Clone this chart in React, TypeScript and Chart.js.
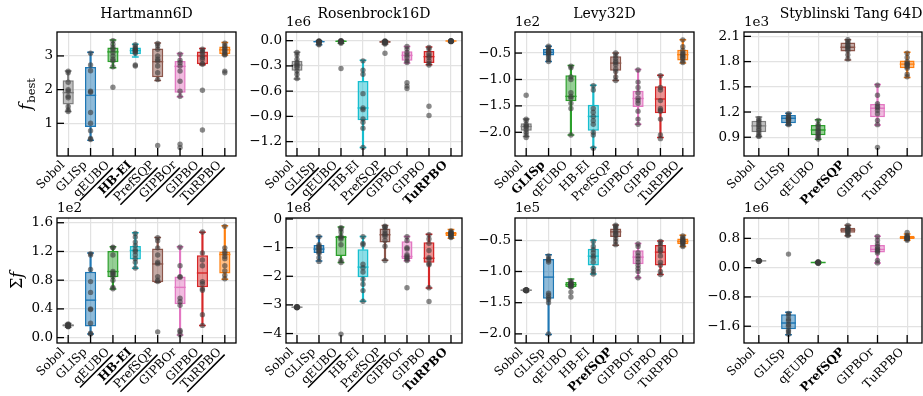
import React, { useEffect, useRef } from "react";
import { Chart, registerables } from "chart.js";
Chart.register(...registerables);

const W = 923;
const H = 396;
const FONT = '"DejaVu Serif", serif';

const COLORS: Record<string, string> = {
  Sobol: "#7f7f7f",
  GLISp: "#1f77b4",
  qEUBO: "#2ca02c",
  "HB-EI": "#17becf",
  PrefSQP: "#8c564b",
  GIPBOr: "#e377c2",
  GIPBO: "#d62728",
  TuRPBO: "#ff7f0e",
};

const CATS8 = ["Sobol", "GLISp", "qEUBO", "HB-EI", "PrefSQP", "GIPBOr", "GIPBO", "TuRPBO"];
const CATS6 = ["Sobol", "GLISp", "qEUBO", "PrefSQP", "GIPBOr", "TuRPBO"];

// ---------- Hartmann6D, f_best ----------
// box rows: [lower whisker, q1, median, q3, upper whisker]
const h6Box = [
  [1.35, 1.56, 1.91, 2.28, 2.55],
  [0.5, 0.89, 1.83, 2.67, 3.11],
  [2.65, 2.81, 3.12, 3.25, 3.47],
  [2.97, 3.05, 3.16, 3.25, 3.35],
  [2.27, 2.37, 2.83, 3.22, 3.38],
  [1.79, 1.91, 2.69, 2.85, 3.07],
  [2.74, 2.75, 3.0, 3.13, 3.22],
  [3.03, 3.06, 3.18, 3.28, 3.4],
];
const h6Pts = [
  [2.55, 2.5, 2.22, 2.0, 1.95, 1.8, 1.76, 1.5, 1.4, 1.35],
  [3.08, 2.73, 2.56, 1.95, 1.92, 1.32, 1.0, 0.78, 0.55, 0.52],
  [3.45, 3.35, 3.25, 3.2, 3.1, 3.0, 2.9, 2.85, 2.68, 2.07],
  [3.33, 3.28, 3.22, 3.2, 3.17, 3.15, 3.12, 3.08, 2.73, 2.7],
  [3.37, 3.3, 3.2, 3.0, 2.9, 2.85, 2.7, 2.5, 2.3, 0.34],
  [3.05, 2.87, 2.8, 2.7, 2.55, 2.25, 1.95, 1.8, 0.38, 0.28],
  [3.2, 3.15, 3.1, 3.02, 2.95, 2.9, 2.78, 2.75, 1.98, 0.8],
  [3.38, 3.3, 3.25, 3.2, 3.15, 3.1, 3.05, 3.03, 2.55, 2.5],
];
const h6Ticks = [1, 2, 3];
const h6TickLabels = ["1", "2", "3"];
const h6Range = [0.03, 3.71];
const h6Bold = ["HB-EI"];
const h6Under = ["qEUBO", "HB-EI", "PrefSQP", "GIPBOr", "GIPBO", "TuRPBO"];

// ---------- Rosenbrock16D, f_best (1e6) ----------
const r16Box = [
  [-0.457, -0.358, -0.29, -0.238, -0.139],
  [-0.05, -0.02, -0.012, -0.005, 0.0],
  [-0.03, -0.015, -0.007, -0.002, 0.0],
  [-1.27, -0.946, -0.8, -0.48, -0.234],
  [-0.04, -0.025, -0.015, -0.005, 0.0],
  [-0.266, -0.238, -0.175, -0.127, -0.068],
  [-0.286, -0.266, -0.19, -0.123, -0.075],
  [-0.012, -0.008, -0.004, -0.002, 0.0],
];
const r16Pts = [
  [-0.14, -0.17, -0.22, -0.26, -0.28, -0.3, -0.32, -0.36, -0.4, -0.45],
  [-0.003, -0.005, -0.008, -0.01, -0.012, -0.015, -0.02, -0.025, -0.04, -0.05],
  [0.0, -0.002, -0.005, -0.007, -0.01, -0.012, -0.015, -0.02, -0.03, -0.33],
  [-0.24, -0.35, -0.4, -0.63, -0.8, -0.82, -0.93, -0.97, -1.04, -1.27],
  [-0.003, -0.006, -0.01, -0.012, -0.015, -0.018, -0.022, -0.03, -0.04, -0.15],
  [-0.07, -0.1, -0.14, -0.17, -0.2, -0.24, -0.26, -0.5, -0.54, -0.57],
  [-0.08, -0.1, -0.15, -0.18, -0.2, -0.24, -0.27, -0.29, -0.78, -0.89],
  [-0.001, -0.002, -0.003, -0.004, -0.005, -0.006, -0.008, -0.009, -0.01, -0.012],
];
const r16Ticks = [0, -0.3, -0.6, -0.9, -1.2];
const r16TickLabels = ["0.0", "\u22120.3", "\u22120.6", "\u22120.9", "\u22121.2"];
const r16Range = [-1.371, 0.103];
const r16Bold = ["TuRPBO"];
const r16Under = ["GLISp", "qEUBO", "PrefSQP"];

// ---------- Levy32D, f_best (1e2) ----------
const l32Box = [
  [-2.08, -1.97, -1.89, -1.83, -1.75],
  [-0.66, -0.544, -0.487, -0.424, -0.37],
  [-2.05, -1.41, -1.32, -0.92, -0.734],
  [-2.29, -1.97, -1.7, -1.48, -1.11],
  [-1.02, -0.835, -0.69, -0.56, -0.5],
  [-1.85, -1.52, -1.36, -1.215, -0.81],
  [-2.1, -1.64, -1.37, -1.13, -0.92],
  [-0.69, -0.64, -0.53, -0.437, -0.25],
];
const l32Pts = [
  [-1.3, -1.75, -1.78, -1.85, -1.88, -1.9, -1.95, -2.0, -2.05, -2.1],
  [-0.37, -0.4, -0.44, -0.47, -0.49, -0.5, -0.53, -0.57, -0.62, -0.66],
  [-0.75, -0.78, -0.95, -1.0, -1.25, -1.32, -1.35, -1.45, -1.55, -2.05],
  [-1.12, -1.2, -1.55, -1.62, -1.7, -1.78, -1.85, -2.0, -2.05, -2.3],
  [-0.5, -0.55, -0.6, -0.65, -0.68, -0.72, -0.8, -0.85, -0.95, -1.02],
  [-0.82, -1.05, -1.15, -1.25, -1.35, -1.4, -1.45, -1.6, -1.75, -1.85],
  [-0.93, -1.15, -1.2, -1.4, -1.55, -1.58, -1.6, -1.75, -2.05, -2.12],
  [-0.25, -0.38, -0.45, -0.5, -0.52, -0.55, -0.58, -0.6, -0.65, -0.68],
];
const l32Ticks = [-0.5, -1.0, -1.5, -2.0];
const l32TickLabels = ["\u22120.5", "\u22121.0", "\u22121.5", "\u22122.0"];
const l32Range = [-2.449, -0.101];
const l32Bold = ["GLISp"];
const l32Under = ["TuRPBO"];

// ---------- Styblinski Tang 64D, f_best (1e3) ----------
const st64Box = [
  [0.908, 0.96, 1.035, 1.095, 1.14],
  [1.047, 1.067, 1.126, 1.166, 1.186],
  [0.876, 0.924, 0.987, 1.047, 1.107],
  [1.82, 1.92, 1.97, 2.028, 2.06],
  [1.047, 1.138, 1.245, 1.297, 1.528],
  [1.61, 1.722, 1.77, 1.814, 1.91],
];
const st64Pts = [
  [1.12, 1.1, 1.08, 1.05, 1.03, 1.0, 0.98, 0.95, 0.92, 0.91],
  [1.18, 1.16, 1.14, 1.13, 1.12, 1.11, 1.1, 1.08, 1.06, 1.05],
  [1.1, 1.05, 1.03, 1.0, 0.98, 0.96, 0.94, 0.92, 0.9, 0.88],
  [2.06, 2.04, 2.02, 2.0, 1.98, 1.97, 1.95, 1.93, 1.88, 1.83],
  [1.52, 1.4, 1.3, 1.27, 1.25, 1.22, 1.18, 1.1, 1.05, 0.78],
  [1.9, 1.85, 1.8, 1.78, 1.77, 1.76, 1.74, 1.72, 1.65, 1.62],
];
const st64Ticks = [0.9, 1.2, 1.5, 1.8, 2.1];
const st64TickLabels = ["0.9", "1.2", "1.5", "1.8", "2.1"];
const st64Range = [0.677, 2.152];
const st64Bold = ["PrefSQP"];
const st64Under: string[] = [];

// ---------- Hartmann6D, sum f (1e2) ----------
const h6SumBox = [
  [0.145, 0.155, 0.17, 0.185, 0.195],
  [0.052, 0.155, 0.522, 0.918, 1.18],
  [0.678, 0.842, 0.92, 1.205, 1.266],
  [0.965, 1.087, 1.214, 1.275, 1.459],
  [0.772, 0.772, 1.026, 1.242, 1.393],
  [0.038, 0.466, 0.7, 0.852, 1.266],
  [0.169, 0.701, 0.9, 1.148, 1.468],
  [0.814, 0.894, 1.158, 1.2, 1.558],
];
const h6SumPts = [
  [0.15, 0.16, 0.16, 0.17, 0.17, 0.18, 0.18, 0.19, 0.17, 0.16],
  [1.17, 1.15, 0.95, 0.78, 0.63, 0.4, 0.39, 0.2, 0.06, 0.05],
  [1.26, 1.25, 1.15, 0.92, 0.9, 0.88, 0.85, 0.8, 0.7, 0.68],
  [1.45, 1.4, 1.33, 1.28, 1.22, 1.2, 1.15, 1.1, 1.05, 0.97],
  [1.39, 1.35, 1.25, 1.15, 1.05, 1.03, 0.85, 0.8, 0.78, 0.08],
  [1.26, 1.0, 0.85, 0.84, 0.55, 0.5, 0.45, 0.1, 0.08, 0.04],
  [1.47, 1.18, 1.08, 1.0, 0.78, 0.75, 0.68, 0.66, 0.32, 0.17],
  [1.55, 1.25, 1.2, 1.17, 1.13, 1.1, 1.0, 0.93, 0.87, 0.82],
];
const h6SumTicks = [0, 0.4, 0.8, 1.2, 1.6];
const h6SumTickLabels = ["0.0", "0.4", "0.8", "1.2", "1.6"];
const h6SumRange = [-0.075, 1.666];
const h6SumBold = ["HB-EI"];
const h6SumUnder = ["qEUBO", "HB-EI", "PrefSQP", "GIPBO", "TuRPBO"];

// ---------- Rosenbrock16D, sum f (1e8) ----------
const r16SumBox = [
  [-3.1, -3.09, -3.08, -3.07, -3.06],
  [-1.47, -1.19, -1.05, -0.91, -0.61],
  [-1.52, -1.29, -0.64, -0.585, -0.28],
  [-2.87, -2.03, -1.68, -1.06, -0.61],
  [-1.44, -0.82, -0.55, -0.33, -0.23],
  [-1.46, -1.4, -1.31, -0.78, -0.61],
  [-2.41, -1.53, -1.37, -0.81, -0.53],
  [-0.67, -0.596, -0.51, -0.456, -0.37],
];
const r16SumPts = [
  [-3.06, -3.07, -3.07, -3.08, -3.08, -3.08, -3.09, -3.09, -3.1, -3.08],
  [-0.62, -0.9, -0.95, -1.0, -1.05, -1.1, -1.15, -1.2, -1.35, -1.48],
  [-0.3, -0.35, -0.45, -0.6, -0.65, -0.7, -0.9, -1.45, -1.52, -4.02],
  [-0.62, -0.85, -0.9, -1.58, -1.7, -1.85, -2.1, -2.28, -2.5, -2.87],
  [-0.25, -0.28, -0.3, -0.4, -0.5, -0.55, -0.6, -0.75, -0.95, -1.45],
  [-0.62, -0.75, -1.0, -1.05, -1.25, -1.3, -1.35, -1.4, -1.45, -2.4],
  [-0.55, -0.7, -0.85, -1.1, -1.35, -1.4, -1.55, -1.6, -2.4, -2.88],
  [-0.42, -0.45, -0.48, -0.5, -0.52, -0.54, -0.56, -0.6, -0.62, -0.65],
];
const r16SumTicks = [0, -1, -2, -3, -4];
const r16SumTickLabels = ["0", "\u22121", "\u22122", "\u22123", "\u22124"];
const r16SumRange = [-4.33, 0.035];
const r16SumBold = ["TuRPBO"];
const r16SumUnder = ["qEUBO", "PrefSQP"];

// ---------- Levy32D, sum f (1e5) ----------
const l32SumBox = [
  [-1.32, -1.31, -1.3, -1.29, -1.28],
  [-2.01, -1.437, -1.09, -0.8, -0.733],
  [-1.25, -1.25, -1.21, -1.17, -1.12],
  [-1.04, -0.906, -0.755, -0.635, -0.5],
  [-0.58, -0.446, -0.365, -0.31, -0.256],
  [-1.1, -0.885, -0.77, -0.66, -0.55],
  [-1.05, -0.906, -0.69, -0.576, -0.51],
  [-0.6, -0.565, -0.52, -0.473, -0.42],
];
const l32SumPts = [
  [-1.29, -1.3, -1.3, -1.3, -1.31, -1.3, -1.29, -1.31, -1.3, -1.3],
  [-0.75, -0.8, -0.82, -0.85, -1.35, -1.38, -1.42, -1.45, -1.5, -2.0],
  [-1.15, -1.17, -1.19, -1.2, -1.21, -1.22, -1.24, -1.25, -1.33, -1.41],
  [-0.52, -0.6, -0.65, -0.7, -0.75, -0.78, -0.85, -0.95, -1.0, -1.04],
  [-0.26, -0.28, -0.3, -0.34, -0.37, -0.4, -0.42, -0.47, -0.52, -0.57],
  [-0.56, -0.6, -0.7, -0.75, -0.8, -0.85, -0.9, -0.95, -1.0, -1.1],
  [-0.52, -0.55, -0.6, -0.65, -0.68, -0.75, -0.85, -0.9, -1.0, -1.05],
  [-0.43, -0.46, -0.48, -0.5, -0.51, -0.52, -0.54, -0.55, -0.58, -0.6],
];
const l32SumTicks = [-0.5, -1.0, -1.5, -2.0];
const l32SumTickLabels = ["\u22120.5", "\u22121.0", "\u22121.5", "\u22122.0"];
const l32SumRange = [-2.146, -0.143];
const l32SumBold = ["PrefSQP"];
const l32SumUnder: string[] = [];

// ---------- Styblinski Tang 64D, sum f (1e6) ----------
const st64SumBox = [
  [0.17, 0.18, 0.185, 0.19, 0.2],
  [-1.83, -1.68, -1.51, -1.273, -1.22],
  [0.12, 0.13, 0.14, 0.15, 0.16],
  [0.87, 0.95, 1.03, 1.09, 1.16],
  [0.13, 0.415, 0.5, 0.62, 0.86],
  [0.75, 0.78, 0.82, 0.87, 0.92],
];
const st64SumPts = [
  [0.17, 0.18, 0.18, 0.185, 0.19, 0.19, 0.2, 0.18, 0.185, 0.19],
  [0.37, -1.25, -1.3, -1.4, -1.45, -1.55, -1.6, -1.7, -1.75, -1.82],
  [0.12, 0.13, 0.13, 0.14, 0.14, 0.15, 0.15, 0.16, 0.14, 0.13],
  [1.15, 1.1, 1.07, 1.05, 1.03, 1.0, 0.98, 0.95, 0.9, 0.88],
  [0.85, 0.75, 0.65, 0.58, 0.52, 0.48, 0.45, 0.4, 0.2, 0.13],
  [0.96, 0.88, 0.85, 0.83, 0.82, 0.81, 0.8, 0.79, 0.78, 0.75],
];
const st64SumTicks = [0.8, 0.0, -0.8, -1.6];
const st64SumTickLabels = ["0.8", "0.0", "\u22120.8", "\u22121.6"];
const st64SumRange = [-2.058, 1.356];
const st64SumBold = ["PrefSQP"];
const st64SumUnder: string[] = [];

// ---------- layout ----------
const COL_X = [
  [57, 236],
  [286, 462],
  [515, 694],
  [744, 922],
];
const ROW_Y = [
  [32, 156],
  [218, 343],
];

type Panel = {
  row: number;
  col: number;
  title?: string;
  titleX?: number;
  offset?: string;
  ylabel?: "fbest" | "sum";
  cats: string[];
  box: number[][];
  pts: number[][];
  ticks: number[];
  tickLabels: string[];
  range: number[];
  bold: string[];
  under: string[];
};

const PANELS: Panel[] = [
  { row: 0, col: 0, title: "Hartmann6D", ylabel: "fbest", cats: CATS8, box: h6Box, pts: h6Pts, ticks: h6Ticks, tickLabels: h6TickLabels, range: h6Range, bold: h6Bold, under: h6Under },
  { row: 0, col: 1, title: "Rosenbrock16D", offset: "1e6", cats: CATS8, box: r16Box, pts: r16Pts, ticks: r16Ticks, tickLabels: r16TickLabels, range: r16Range, bold: r16Bold, under: r16Under },
  { row: 0, col: 2, title: "Levy32D", offset: "1e2", cats: CATS8, box: l32Box, pts: l32Pts, ticks: l32Ticks, tickLabels: l32TickLabels, range: l32Range, bold: l32Bold, under: l32Under },
  { row: 0, col: 3, title: "Styblinski Tang 64D", titleX: 851, offset: "1e3", cats: CATS6, box: st64Box, pts: st64Pts, ticks: st64Ticks, tickLabels: st64TickLabels, range: st64Range, bold: st64Bold, under: st64Under },
  { row: 1, col: 0, ylabel: "sum", offset: "1e2", cats: CATS8, box: h6SumBox, pts: h6SumPts, ticks: h6SumTicks, tickLabels: h6SumTickLabels, range: h6SumRange, bold: h6SumBold, under: h6SumUnder },
  { row: 1, col: 1, offset: "1e8", cats: CATS8, box: r16SumBox, pts: r16SumPts, ticks: r16SumTicks, tickLabels: r16SumTickLabels, range: r16SumRange, bold: r16SumBold, under: r16SumUnder },
  { row: 1, col: 2, offset: "1e5", cats: CATS8, box: l32SumBox, pts: l32SumPts, ticks: l32SumTicks, tickLabels: l32SumTickLabels, range: l32SumRange, bold: l32SumBold, under: l32SumUnder },
  { row: 1, col: 3, offset: "1e6", cats: CATS6, box: st64SumBox, pts: st64SumPts, ticks: st64SumTicks, tickLabels: st64SumTickLabels, range: st64SumRange, bold: st64SumBold, under: st64SumUnder },
];

function rgba(hex: string, a: number) {
  const n = parseInt(hex.slice(1), 16);
  return `rgba(${(n >> 16) & 255},${(n >> 8) & 255},${n & 255},${a})`;
}

const GRID = "#e2e2e2";
const YW = 60;

const decorPlugin = {
  id: "decor",
  afterDraw(chart: any, _args: any, opts: any) {
    const p: Panel = opts.panel;
    const { ctx, chartArea: ca, scales } = chart;
    const xs = scales.x;
    const ys = scales.y;
    ctx.save();
    ctx.strokeStyle = "#000";
    ctx.lineCap = "butt";
    // inward ticks
    ctx.lineWidth = 1.3;
    p.cats.forEach((_c, i) => {
      const x = xs.getPixelForValue(i);
      ctx.beginPath();
      ctx.moveTo(x, ca.bottom);
      ctx.lineTo(x, ca.bottom - 8);
      ctx.stroke();
    });
    p.ticks.forEach((v) => {
      const y = ys.getPixelForValue(v);
      ctx.beginPath();
      ctx.moveTo(ca.left, y);
      ctx.lineTo(ca.left + 7, y);
      ctx.stroke();
    });
    // frame
    ctx.lineWidth = 1.3;
    ctx.strokeRect(ca.left, ca.top, ca.right - ca.left, ca.bottom - ca.top);

    // x labels, rotated 45 degrees
    const fs = 12;
    p.cats.forEach((c, i) => {
      const x = xs.getPixelForValue(i);
      const bold = p.bold.includes(c);
      ctx.font = `${bold ? "bold " : ""}${fs}px ${FONT}`;
      const w = ctx.measureText(c).width;
      const a = 0.76 * fs;
      const d = 0.24 * fs;
      const px = x - 0.7071 * d - 1;
      const py = ca.bottom + 3 + 0.7071 * a;
      ctx.save();
      ctx.translate(px, py);
      ctx.rotate(-Math.PI / 4);
      ctx.fillStyle = "#000";
      ctx.textAlign = "right";
      ctx.textBaseline = "alphabetic";
      ctx.fillText(c, 0, 0);
      if (p.under.includes(c)) {
        ctx.lineWidth = 1.5;
        ctx.beginPath();
        ctx.moveTo(-w - 0.5, 3.6);
        ctx.lineTo(0.5, 3.6);
        ctx.stroke();
      }
      ctx.restore();
    });

    ctx.fillStyle = "#000";
    // title
    if (p.title) {
      ctx.font = `14px ${FONT}`;
      ctx.textAlign = "center";
      ctx.textBaseline = "alphabetic";
      const tx = p.titleX ?? (ca.left + ca.right) / 2;
      ctx.fillText(p.title, tx, 18);
    }
    // offset text
    if (p.offset) {
      ctx.font = `13.5px ${FONT}`;
      ctx.textAlign = "left";
      ctx.textBaseline = "alphabetic";
      ctx.fillText(p.offset, ca.left, ca.top - 6.5);
    }
    // y label
    if (p.ylabel) {
      const cy = (ca.top + ca.bottom) / 2;
      ctx.save();
      ctx.textAlign = "left";
      if (p.ylabel === "fbest") {
        ctx.translate(31, cy);
        ctx.rotate(-Math.PI / 2);
        ctx.font = `italic 17px ${FONT}`;
        const wf = ctx.measureText("f").width;
        ctx.font = `11.5px ${FONT}`;
        const wb = ctx.measureText("best").width;
        const start = -(wf + wb + 1) / 2;
        ctx.font = `italic 17px ${FONT}`;
        ctx.fillText("f", start, 0);
        ctx.font = `11.5px ${FONT}`;
        ctx.fillText("best", start + wf + 1, 3.8);
      } else {
        ctx.translate(21.5, cy);
        ctx.rotate(-Math.PI / 2);
        ctx.font = `16px ${FONT}`;
        const ws = ctx.measureText("\u03A3").width;
        ctx.font = `italic 16px ${FONT}`;
        const wf = ctx.measureText("f").width;
        const start = -(ws + wf) / 2;
        ctx.font = `16px ${FONT}`;
        ctx.fillText("\u03A3", start, 0);
        ctx.font = `italic 16px ${FONT}`;
        ctx.fillText("f", start + ws, 0);
      }
      ctx.restore();
    }
    ctx.restore();
  },
};

function buildChart(canvas: HTMLCanvasElement, p: Panel) {
  const [L, R] = COL_X[p.col];
  const [T, B] = ROW_Y[p.row];
  const n = p.cats.length;
  const colors = p.cats.map((c) => COLORS[c]);
  const capData: any[] = [];
  const capColors: string[] = [];
  p.box.forEach((b, i) => {
    capData.push({ x: p.cats[i], y: b[0] }, { x: p.cats[i], y: b[4] });
    capColors.push(colors[i], colors[i]);
  });
  const pts: any[] = [];
  p.pts.forEach((arr, i) => arr.forEach((v) => pts.push({ x: p.cats[i], y: v })));
  const halfBox = (ctx: any) => {
    const ca = ctx.chart.chartArea;
    const w = ca ? ca.right - ca.left : R - L;
    return (w / n) * 0.25;
  };

  return new Chart(canvas, {
    type: "bar",
    data: {
      labels: p.cats,
      datasets: [
        { type: "bar", data: p.box.map((b) => [b[0], b[1]]), backgroundColor: colors, borderWidth: 0, barThickness: 1.5, grouped: false, order: 6 } as any,
        { type: "bar", data: p.box.map((b) => [b[3], b[4]]), backgroundColor: colors, borderWidth: 0, barThickness: 1.5, grouped: false, order: 5 } as any,
        {
          type: "bar",
          data: p.box.map((b) => [b[1], b[3]]),
          backgroundColor: colors.map((c) => rgba(c, 0.5)),
          borderColor: colors,
          borderWidth: 1.5,
          borderSkipped: false,
          barPercentage: 0.5,
          categoryPercentage: 1,
          grouped: false,
          order: 4,
        } as any,
        {
          type: "line",
          data: p.box.map((b, i) => ({ x: p.cats[i], y: b[2] })),
          showLine: false,
          pointStyle: "line",
          pointRadius: halfBox,
          pointBorderColor: colors,
          pointBackgroundColor: colors,
          pointBorderWidth: 1.4,
          order: 3,
        } as any,
        {
          type: "line",
          data: capData,
          showLine: false,
          pointStyle: "line",
          pointRadius: 3.4,
          pointBorderColor: capColors,
          pointBackgroundColor: capColors,
          pointBorderWidth: 1.5,
          order: 2,
        } as any,
        {
          type: "line",
          data: pts,
          showLine: false,
          pointRadius: 2.7,
          pointBackgroundColor: "rgba(60,60,60,0.6)",
          pointBorderColor: "rgba(60,60,60,0.6)",
          pointBorderWidth: 0,
          order: 1,
        } as any,
      ],
    },
    options: {
      animation: false,
      responsive: false,
      events: [],
      layout: {
        autoPadding: false,
        padding: { left: L - YW, right: W - R, top: T, bottom: H - B },
      },
      plugins: {
        legend: { display: false },
        tooltip: { enabled: false },
        decor: { panel: p },
      } as any,
      scales: {
        x: {
          type: "category",
          offset: true,
          grid: { offset: false, color: GRID, lineWidth: 1.2, drawTicks: false },
          border: { display: false },
          ticks: { display: false },
          afterFit: (s: any) => {
            s.height = 0;
          },
        },
        y: {
          type: "linear",
          min: p.range[0],
          max: p.range[1],
          afterBuildTicks: (s: any) => {
            s.ticks = p.ticks.map((v) => ({ value: v }));
          },
          grid: { color: GRID, lineWidth: 1.2, drawTicks: false },
          border: { display: false },
          ticks: {
            autoSkip: false,
            padding: 4,
            color: "#000",
            font: { family: FONT, size: 13.5 },
            callback: (_v: any, i: number) => p.tickLabels[i],
          },
          afterFit: (s: any) => {
            s.width = YW;
          },
        },
      } as any,
    },
    plugins: [decorPlugin as any],
  });
}

function PanelCanvas({ panel }: { panel: Panel }) {
  const ref = useRef<HTMLCanvasElement | null>(null);
  useEffect(() => {
    if (!ref.current) return;
    const chart = buildChart(ref.current, panel);
    return () => chart.destroy();
  }, [panel]);
  return (
    <canvas
      ref={ref}
      width={W}
      height={H}
      style={{ position: "absolute", left: 0, top: 0, width: W, height: H }}
    />
  );
}

export default function App() {
  return (
    <div style={{ position: "fixed", left: 0, top: 0, width: W, height: H, background: "#fff", overflow: "hidden" }}>
      {PANELS.map((p, i) => (
        <PanelCanvas key={i} panel={p} />
      ))}
    </div>
  );
}
